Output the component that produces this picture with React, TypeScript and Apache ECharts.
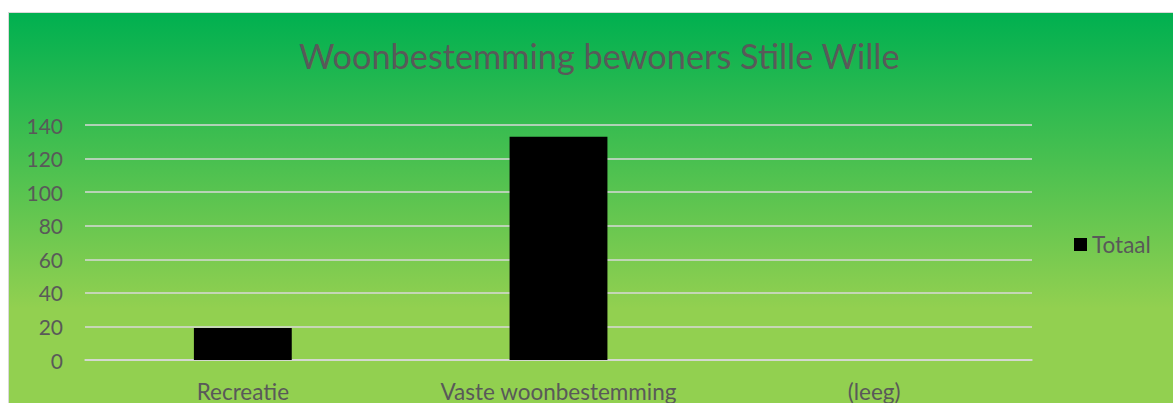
import React, { useEffect, useRef } from "react";
import * as echarts from "echarts";

const categories = ["Recreatie", "Vaste woonbestemming", "(leeg)"];
const totaal = [19, 133, 0];
const seriesName = "Totaal";
const titleText = "Woonbestemming bewoners Stille Wille";

export default function App() {
  const ref = useRef<HTMLDivElement>(null);
  useEffect(() => {
    const chart = echarts.init(ref.current!, null, { renderer: "svg" });
    const font = "Lato";
    chart.setOption({
      animation: false,
      textStyle: { fontFamily: font },
      graphic: [
        {
          type: "rect",
          z: -10,
          shape: { x: 8.5, y: 12.5, width: 1170, height: 400 },
          style: {
            fill: new echarts.graphic.LinearGradient(0, 0, 0, 1, [
              { offset: 0, color: "#00b050" },
              { offset: 0.74, color: "#92d050" },
              { offset: 1, color: "#92d050" },
            ]),
            stroke: "#d9d9d9",
            lineWidth: 1,
          },
        },
      ],
      title: {
        text: titleText,
        left: 294,
        top: 33,
        textStyle: { color: "#595959", fontSize: 34.3, fontWeight: "normal", fontFamily: font },
      },
      legend: {
        left: 1074,
        top: 233,
        padding: 0,
        itemWidth: 13,
        itemHeight: 13,
        icon: "rect",
        textStyle: { color: "#595959", fontSize: 22.5, fontFamily: font },
        data: [seriesName],
      },
      grid: { left: 85, right: 141, top: 125, bottom: 42, containLabel: false },
      xAxis: {
        type: "category",
        data: categories,
        axisLine: { show: true, lineStyle: { color: "#d9d9d9", width: 1.5 } },
        axisTick: { show: false },
        axisLabel: { color: "#595959", fontSize: 22.5, margin: 20, fontFamily: font },
      },
      yAxis: {
        type: "value",
        min: 0,
        max: 140,
        interval: 20,
        axisLine: { show: false },
        axisTick: { show: false },
        axisLabel: { color: "#595959", fontSize: 21, margin: 22, fontFamily: font },
        splitLine: { lineStyle: { color: "#d9d9d9", width: 1.5 } },
      },
      series: [
        {
          name: seriesName,
          type: "bar",
          data: totaal,
          barWidth: "31%",
          itemStyle: { color: "#000000" },
        },
      ],
    });
    return () => chart.dispose();
  }, []);
  return (
    <div
      ref={ref}
      style={{ position: "absolute", left: 0, top: 0, width: 1173, height: 403 }}
    />
  );
}
